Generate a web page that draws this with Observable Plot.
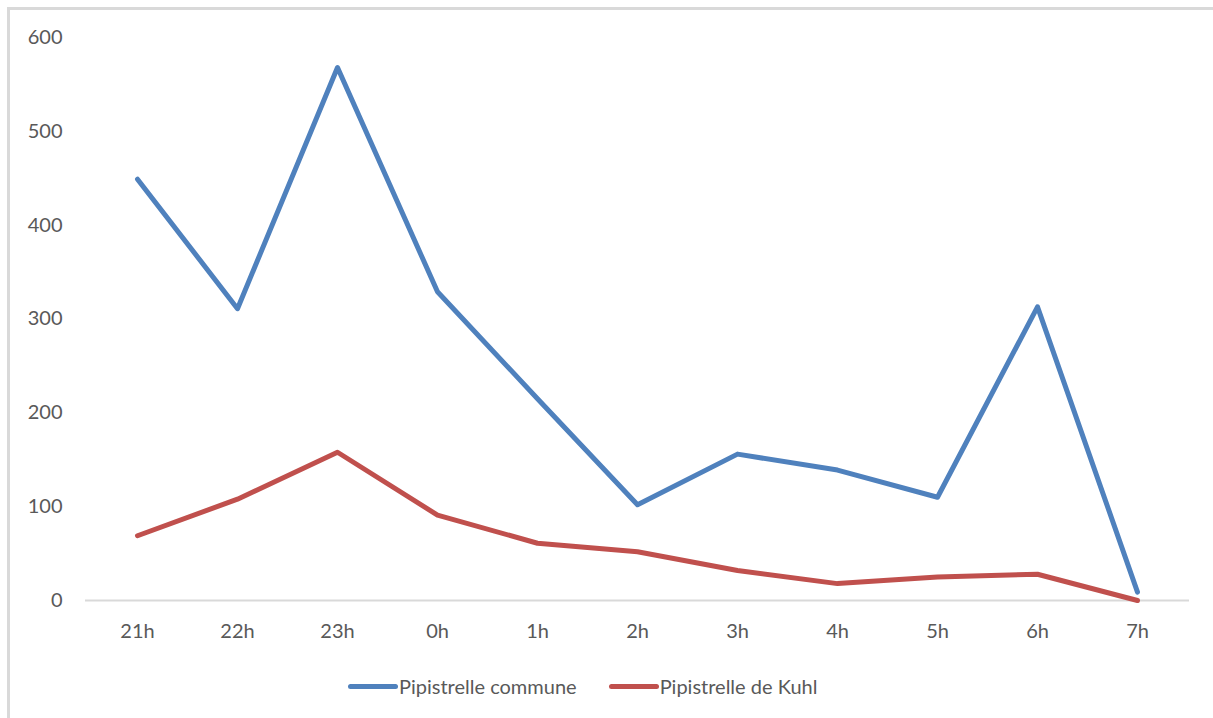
<!DOCTYPE html>
<html>
<head>
<meta charset="utf-8">
<script src="https://cdn.jsdelivr.net/npm/d3@7"></script>
<script src="https://cdn.jsdelivr.net/npm/@observablehq/plot@0.6"></script>
<style>
  html, body { margin: 0; padding: 0; background: #fff; }
  #wrap { position: relative; width: 1213px; height: 718px; overflow: hidden; font-family: "Lato", sans-serif; }
  #bl { position: absolute; left: 7px; top: 7px; width: 3px; height: 720px; background: #d9d9d9; }
  #bt { position: absolute; left: 7px; top: 7px; width: 1220px; height: 3px; background: #d9d9d9; }
  #chart { position: absolute; left: 0; top: 0; }
  #legend { position: absolute; left: 348px; top: 672px; height: 28px; display: flex; align-items: center; color: #595959; font-size: 20px; }
  .item { display: flex; align-items: center; margin-right: 32px; }
  .sw { width: 50px; height: 5px; border-radius: 3px; margin-right: 1px; }
</style>
</head>
<body>
<div id="wrap">
  <div id="bl"></div>
  <div id="bt"></div>
  <div id="chart"></div>
  <div id="legend"></div>
</div>
<script>
const hours = ["21h", "22h", "23h", "0h", "1h", "2h", "3h", "4h", "5h", "6h", "7h"];
const seriesNames = ["Pipistrelle commune", "Pipistrelle de Kuhl"];
const commune = [449, 311, 568, 329, 215, 102, 156, 139, 110, 313, 9];
const kuhl = [69, 108, 158, 91, 61, 52, 32, 18, 25, 28, 0];
const colors = ["#4F81BD", "#C0504D"];
const yTicks = [0, 100, 200, 300, 400, 500, 600];

const data = [
  ...hours.map((h, i) => ({hour: h, value: commune[i], series: seriesNames[0]})),
  ...hours.map((h, i) => ({hour: h, value: kuhl[i], series: seriesNames[1]}))
];

const chart = Plot.plot({
  width: 1213,
  height: 650,
  marginLeft: 85,
  marginRight: 24,
  marginTop: 37,
  marginBottom: 50,
  style: {fontFamily: "Lato, sans-serif", fontSize: "20px", color: "#595959", background: "transparent"},
  x: {type: "point", domain: hours, padding: 0.5, label: null, tickSize: 0, tickPadding: 23},
  y: {domain: [0, 600], ticks: yTicks, label: null, tickSize: 0, tickPadding: 23},
  color: {domain: seriesNames, range: colors},
  marks: [
    Plot.ruleY([0], {stroke: "#d9d9d9", strokeWidth: 2}),
    Plot.line(data, {x: "hour", y: "value", z: "series", stroke: "series", strokeWidth: 5, strokeLinejoin: "round", strokeLinecap: "round"})
  ]
});
document.getElementById("chart").appendChild(chart);

const legend = document.getElementById("legend");
seriesNames.forEach((name, i) => {
  const item = document.createElement("div");
  item.className = "item";
  const sw = document.createElement("span");
  sw.className = "sw";
  sw.style.background = colors[i];
  const t = document.createElement("span");
  t.textContent = name;
  item.appendChild(sw);
  item.appendChild(t);
  legend.appendChild(item);
});
</script>
</body>
</html>
